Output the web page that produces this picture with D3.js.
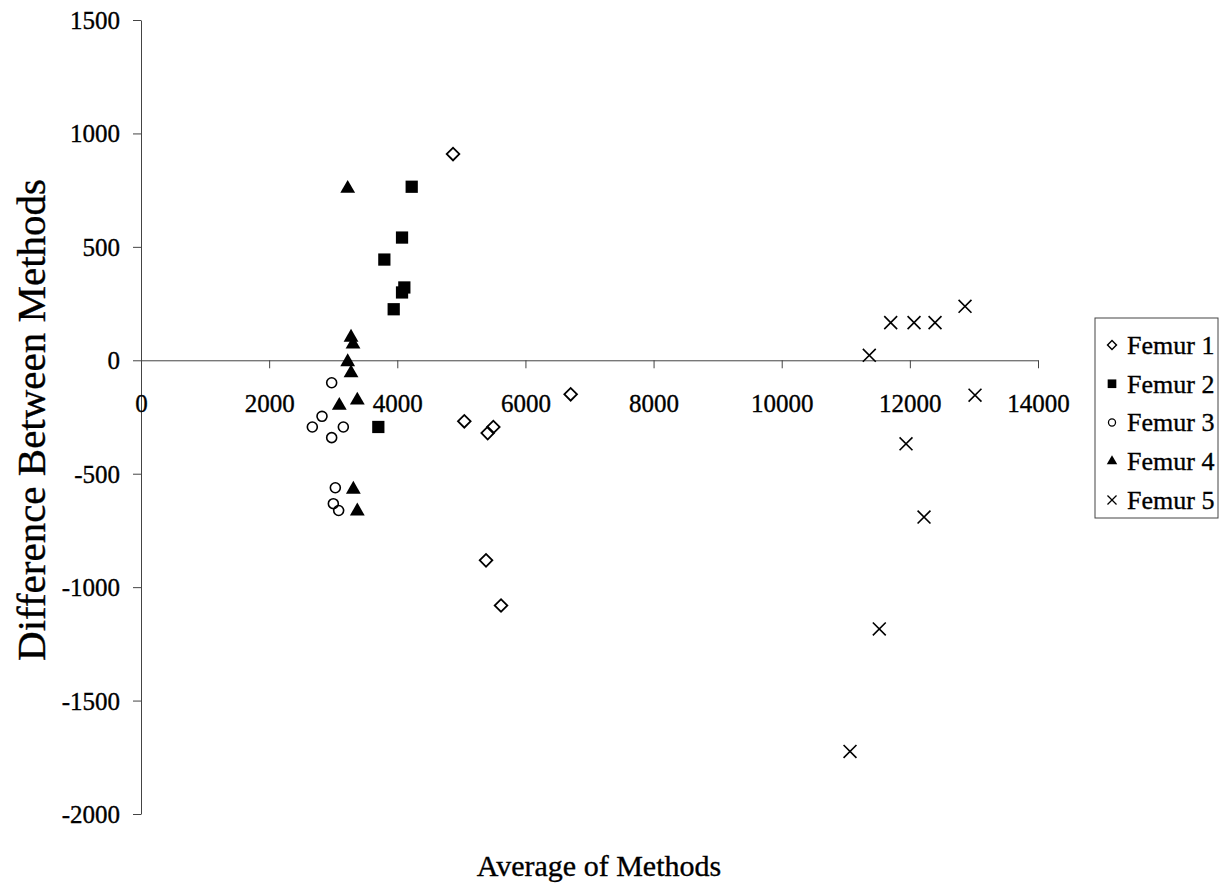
<!DOCTYPE html>
<html>
<head>
<meta charset="utf-8">
<script src="https://cdn.jsdelivr.net/npm/d3@7"></script>
<style>
  body { margin: 0; background: #fff; }
  svg text {
    font-family: "Liberation Serif", "Times New Roman", Tinos, "DejaVu Serif", serif !important;
    stroke: #000;
    stroke-width: 0.35px;
  }
</style>
</head>
<body>
<svg id="plot" width="1226" height="884"></svg>
<script>
"use strict";

// Femur series: [average of methods, difference between methods]
const femur1 = [[4870, 909], [6706, -150], [5046, -269], [5411, -321], [5499, -294], [5385, -882], [5619, -1081]];
const femur2 = [[4225, 765], [4074, 541], [3798, 444], [4110, 321], [4074, 299], [3944, 225], [3704, -294]];
const femur3 = [[2976, -99], [2825, -247], [2674, -294], [3158, -294], [2976, -341], [3033, -562], [3002, -632], [3085, -662]];
const femur4 = [[3226, 757], [3278, 101], [3309, 71], [3226, -7], [3278, -56], [3095, -199], [3376, -176], [3314, -569], [3376, -665]];
const femur5 = [[12861, 238], [11701, 166], [12065, 166], [12393, 166], [11367, 22], [13017, -154], [11940, -368], [12221, -691], [11523, -1184], [11066, -1724]];

const seriesNames = ["Femur 1", "Femur 2", "Femur 3", "Femur 4", "Femur 5"];
const xTicks = [0, 2000, 4000, 6000, 8000, 10000, 12000, 14000];
const yTicks = [-2000, -1500, -1000, -500, 0, 500, 1000, 1500];

const ink = "#000";
const axisColor = "#444";

// marker styles per series
const markers = [
  { type: d3.symbolSquare, size: 80, rotate: 45, fill: "none", stroke: ink, width: 1.8 },
  { type: d3.symbolSquare, size: 150, rotate: 0, fill: ink, stroke: "none", width: 0 },
  { type: d3.symbolCircle, size: 78, rotate: 0, fill: "none", stroke: ink, width: 1.6 },
  { type: d3.symbolTriangle, size: 95, rotate: 0, fill: ink, stroke: "none", width: 0 },
  { type: d3.symbolTimes, size: 110, rotate: 0, fill: "none", stroke: ink, width: 1.6 }
];

const svg = d3.select("svg#plot");

const x = d3.scaleLinear().domain([0, 14000]).range([141, 1038]);
const y = d3.scaleLinear().domain([-2000, 1500]).range([814, 20]);

// y axis
const yAxis = svg.append("g")
  .attr("transform", `translate(${x(0)},0)`)
  .call(d3.axisLeft(y).tickValues(yTicks).tickSize(8).tickSizeOuter(0).tickFormat(d => String(d)));
yAxis.select(".domain").attr("stroke", axisColor);
yAxis.selectAll(".tick line").attr("stroke", axisColor);
yAxis.selectAll(".tick text")
  .attr("x", -21)
  .attr("dy", "0.34em")
  .attr("font-size", 25)
  .attr("fill", ink);

// x axis along zero line
const xAxis = svg.append("g")
  .attr("transform", `translate(0,${y(0)})`)
  .call(d3.axisBottom(x).tickValues(xTicks).tickSize(8).tickSizeOuter(0).tickFormat(d => String(d)));
xAxis.select(".domain").attr("stroke", axisColor);
xAxis.selectAll(".tick line").attr("stroke", axisColor);
xAxis.selectAll(".tick text")
  .attr("y", 43)
  .attr("dy", "0.34em")
  .attr("font-size", 25)
  .attr("fill", ink);

// points
const allSeries = [femur1, femur2, femur3, femur4, femur5];
allSeries.forEach((data, i) => {
  const m = markers[i];
  svg.append("g")
    .selectAll("path")
    .data(data)
    .enter()
    .append("path")
    .attr("d", d3.symbol().type(m.type).size(m.size))
    .attr("transform", d => `translate(${x(d[0])},${y(d[1])}) rotate(${m.rotate})`)
    .attr("fill", m.fill)
    .attr("stroke", m.stroke)
    .attr("stroke-width", m.width);
});

// axis titles
svg.append("text")
  .attr("x", 599)
  .attr("y", 876)
  .attr("text-anchor", "middle")
  .attr("font-size", 30)
  .attr("fill", ink)
  .text("Average of Methods");

svg.append("text")
  .attr("transform", "translate(45,420) rotate(-90)")
  .attr("text-anchor", "middle")
  .attr("font-size", 41)
  .attr("fill", ink)
  .text("Difference Between Methods");

// legend
const legend = svg.append("g");
legend.append("rect")
  .attr("x", 1095)
  .attr("y", 318)
  .attr("width", 123)
  .attr("height", 200)
  .attr("fill", "#fff")
  .attr("stroke", axisColor);

const legendY = d3.scalePoint().domain(seriesNames).range([345, 500]);
const items = legend.selectAll(".item")
  .data(seriesNames)
  .enter()
  .append("g")
  .attr("class", "item")
  .attr("transform", d => `translate(1112,${legendY(d)})`);

items.append("path")
  .attr("d", (d, i) => d3.symbol().type(markers[i].type).size(markers[i].size * 0.5)())
  .attr("transform", (d, i) => `rotate(${markers[i].rotate})`)
  .attr("fill", (d, i) => markers[i].fill)
  .attr("stroke", (d, i) => markers[i].stroke)
  .attr("stroke-width", (d, i) => markers[i].width * 0.8);

items.append("text")
  .attr("x", 15)
  .attr("dy", "0.34em")
  .attr("font-size", 26)
  .attr("fill", ink)
  .text(d => d);
</script>
</body>
</html>
